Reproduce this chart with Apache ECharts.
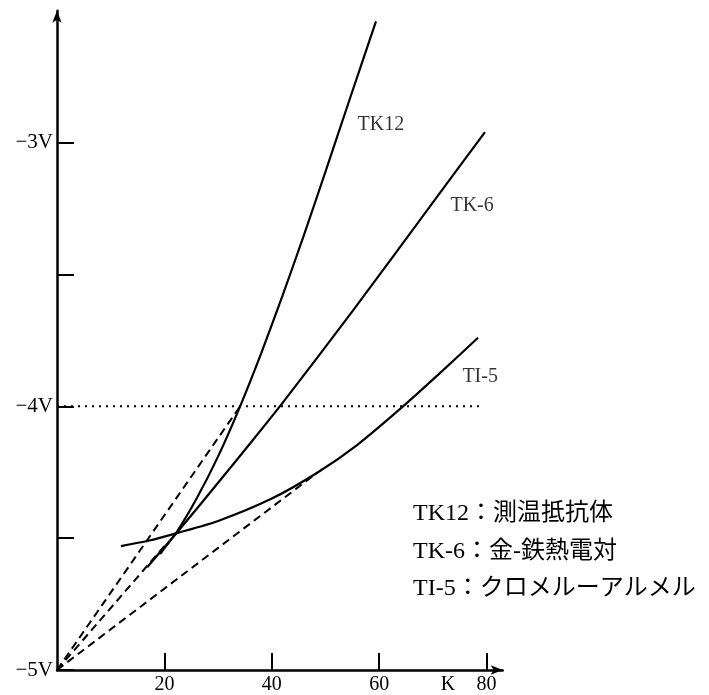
<!DOCTYPE html>
<html>
<head>
<meta charset="utf-8">
<script src="https://cdn.jsdelivr.net/npm/echarts@6/dist/echarts.min.js"></script>
<style>
html, body { margin: 0; padding: 0; background: #fff; }
#chart { width: 709px; height: 695px; }
</style>
</head>
<body>
<div id="chart"></div>
<script>
// Sensor output (V) against temperature (K)
const tk12 = [[19.2, -4.56], [22.5, -4.47], [26, -4.35], [30, -4.19], [34.1, -4.0], [38, -3.80], [42, -3.58], [46, -3.35], [50, -3.11], [54.6, -2.83], [59.4, -2.54]];
const tk6  = [[16.8, -4.61], [22.5, -4.475], [30, -4.29], [36, -4.14], [41.9, -3.99], [55, -3.64], [70.8, -3.205], [79.7, -2.96]];
const ti5  = [[11.9, -4.53], [17, -4.51], [22.5, -4.48], [30, -4.435], [40, -4.35], [48.6, -4.25], [56, -4.145], [63.9, -4.01], [71, -3.88], [78.4, -3.74]];

// Straight reference lines from the origin
const chordTk12 = [[0, -5], [34.1, -4.0]];
const chordTk6  = [[0, -5], [20, -4.53]];
const chordTi5  = [[0, -5], [48.6, -4.25]];

// -4 V level
const levelLine = [[0, -4], [78.8, -4]];

// Curve names and where they are written
const curveNames = ['TK12', 'TK-6', 'TI-5'];
const curveLabelX = [60.3, 77.3, 78.8];
const curveLabelY = [-2.932, -3.238, -3.888];

// Axis ticks and labels
const xTicks = [20, 40, 60, 80];
const xUnitPos = 72.8;
const yTicks = [-5, -4.5, -4, -3.5, -3];
const yLabels = [-5, -4, -3];

// Key text
const keyLines = ['TK12：測温抵抗体', 'TK-6：金-鉄熱電対', 'TI-5：クロメルーアルメル'];

const serif = 'Liberation Serif, Noto Sans CJK JP';

const solid = (data) => ({
  type: 'line', data, showSymbol: false, smooth: 0.25, silent: true,
  lineStyle: { color: '#000', width: 2.2 }
});
const dashed = (data) => ({
  type: 'line', data, showSymbol: false, silent: true,
  lineStyle: { color: '#000', width: 2, type: [8, 5] }
});

const chart = echarts.init(document.getElementById('chart'), null, { renderer: 'canvas' });

chart.setOption({
  animation: false,
  backgroundColor: '#fff',
  grid: { left: 57, right: 206.3, top: 10.75, bottom: 23 },
  xAxis: {
    type: 'value', min: 0, max: 83,
    splitLine: { show: false },
    axisLine: { show: true, lineStyle: { color: '#000', width: 2.5 }, symbol: ['none', 'arrow'], symbolSize: [7, 12] },
    axisTick: { show: true, inside: true, length: 17, lineStyle: { color: '#000', width: 2 }, customValues: xTicks },
    axisLabel: {
      customValues: xTicks.concat([xUnitPos]),
      formatter: (v) => (v === xUnitPos ? 'K' : String(v)),
      color: '#000', fontSize: 20, fontFamily: serif, margin: 5
    }
  },
  yAxis: {
    type: 'value', min: -5, max: -2.5,
    splitLine: { show: false },
    axisLine: { show: true, lineStyle: { color: '#000', width: 2.5 }, symbol: ['none', 'arrow'], symbolSize: [7, 12] },
    axisTick: { show: true, inside: true, length: 17, lineStyle: { color: '#000', width: 2 }, customValues: yTicks },
    axisLabel: {
      customValues: yLabels,
      formatter: (v) => '−' + Math.abs(v) + 'V',
      color: '#000', fontSize: 21, fontFamily: serif, margin: 4
    }
  },
  series: [
    {
      type: 'line', data: levelLine, showSymbol: false, silent: true,
      lineStyle: { color: '#000', width: 2, type: [2, 5] }
    },
    dashed(chordTk12),
    dashed(chordTk6),
    dashed(chordTi5),
    solid(tk12),
    solid(tk6),
    solid(ti5),
    {
      type: 'scatter', symbolSize: 0, silent: true,
      data: curveNames.map((n, i) => ({ name: n, value: [curveLabelX[i], curveLabelY[i]] })),
      label: {
        show: true, position: 'inside', formatter: '{b}',
        color: '#000', fontSize: 20, fontFamily: serif
      }
    }
  ],
  graphic: keyLines.map((t, i) => ({
    type: 'text', left: 413, top: 502 + i * 37.5, silent: true,
    style: { text: t, fill: '#000', font: '24px ' + serif }
  }))
});
</script>
</body>
</html>
